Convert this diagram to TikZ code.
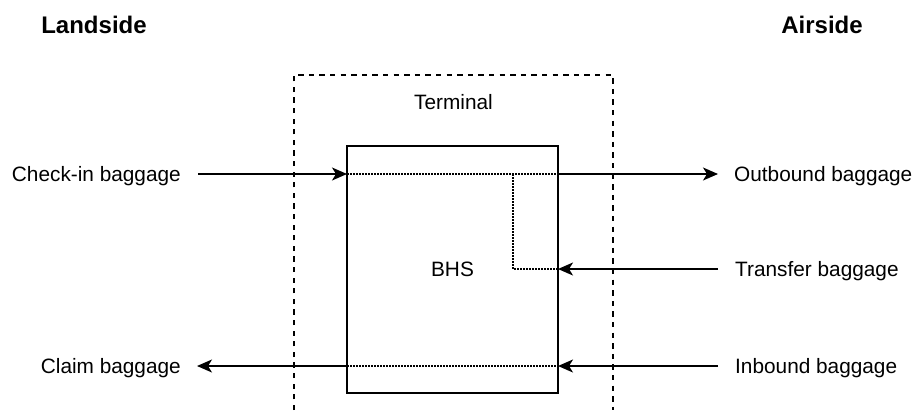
\documentclass[tikz,border=0pt]{standalone}
\usepackage{fontspec}
\setmainfont{Liberation Sans}
\usepackage{tikz}
\usetikzlibrary{arrows.meta,positioning}

\begin{document}
\begin{tikzpicture}[
        x=1pt, y=-1pt,
        font=\fontsize{20.8}{25}\selectfont,
        lbl/.style={inner sep=0pt, text depth=0pt},
        side/.style={inner sep=0pt, font=\fontsize{24}{28}\selectfont\bfseries},
        bhsbox/.style={draw, line width=1.4pt, minimum width=211pt, minimum height=247pt, inner sep=0pt, outer sep=0pt},
        arr/.style={-{Stealth[length=15pt, width=13pt, inset=4pt]}, line width=1.4pt},
        flow/.style={line width=1.2pt, dash pattern=on 1.5pt off 1.5pt},
        term/.style={line width=1.4pt, dash pattern=on 5.3pt off 5.3pt}
    ]
        \useasboundingbox (0,0) rectangle (917,410);
        % terminal and baggage handling system
        \draw[term] (294,410) -- (294,75) -- (613,75) -- (613,410);
        \node[lbl] (term) at (453.5,102) {Terminal};
        \node[bhsbox] (bhs) at (452.5,269.5) {BHS};
        \node[side] (land) at (94,25) {Landside};
        \node[side] (air) at (822,25) {Airside};
        % landside
        \node[lbl, anchor=east] (ckin) at (181,174) {Check-in baggage};
        \node[lbl, anchor=east] (claim) at (181,366) {Claim baggage};
        % airside
        \node[lbl, anchor=west] (outb) at (734,174) {Outbound baggage};
        \node[lbl, anchor=west] (xfer) at (735,269) {Transfer baggage};
        \node[lbl, anchor=west] (inb) at (735,366) {Inbound baggage};
        \coordinate (jn) at (513,174);
        \draw[arr] ([xshift=17pt]ckin.east) -- (ckin -| bhs.west);
        \draw[arr] (outb -| bhs.east) -- ([xshift=-16pt]outb.west);
        \draw[arr] ([xshift=-17pt]xfer.west) -- (xfer -| bhs.east);
        \draw[arr] ([xshift=-17pt]inb.west) -- (inb -| bhs.east);
        \draw[arr] (claim -| bhs.west) -- ([xshift=16pt]claim.east);
        % flows inside the BHS
        \draw[flow] (ckin -| bhs.west) -- (ckin -| bhs.east);
        \draw[flow] (jn) -- (jn |- xfer) -- (xfer -| bhs.east);
        \draw[flow] (inb -| bhs.west) -- (inb -| bhs.east);
    \end{tikzpicture}
\end{document}
